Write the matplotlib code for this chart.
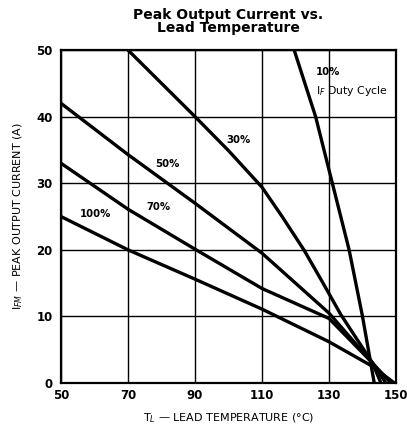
import matplotlib
matplotlib.use("Agg")
import matplotlib.pyplot as plt

# duty cycle curves
t_10 = [119.6, 126, 131, 136, 140, 143.5]
i_10 = [50, 40, 30, 20, 10, 0]

t_30 = [70, 90, 100, 110, 116, 122.5, 128, 133.5, 143, 145.5]
i_30 = [50, 40, 34.9, 29.4, 25, 20, 15.2, 10.3, 3, 0]

t_50 = [50, 70, 90, 110, 130, 143, 147]
i_50 = [42, 34.3, 27, 19.5, 10.5, 3, 0]

t_70 = [50, 70, 90, 110, 130, 143, 148.5]
i_70 = [33, 26.1, 20.1, 14.2, 9.7, 3, 0]

t_100 = [50, 70, 90, 110, 130, 143, 149.5]
i_100 = [25, 20, 15.6, 11.1, 6.2, 2.5, 0]

x_ticks = [50, 70, 90, 110, 130, 150]
y_ticks = [0, 10, 20, 30, 40, 50]


def main():
    fig = plt.figure(figsize=(4.07, 4.28), dpi=100)
    ax = fig.add_axes([0.15, 0.105, 0.823, 0.778])

    for t, i in [(t_10, i_10), (t_30, i_30), (t_50, i_50), (t_70, i_70), (t_100, i_100)]:
        ax.plot(t, i, color="black", lw=2.4, solid_capstyle="butt")

    ax.set_xlim(50, 150)
    ax.set_ylim(0, 50)
    ax.set_xticks(x_ticks)
    ax.set_yticks(y_ticks)
    ax.grid(True, color="black", lw=1.0)
    ax.tick_params(length=0, labelsize=8.5)
    ax.tick_params(axis="x", pad=4)
    ax.tick_params(axis="y", pad=6)
    for lbl in ax.get_xticklabels() + ax.get_yticklabels():
        lbl.set_fontweight("bold")
    for s in ax.spines.values():
        s.set_linewidth(1.6)

    fs = 7.3
    ax.text(126, 46.2, "10%", fontsize=fs, fontweight="bold")
    ax.text(126, 43.4, "I$_F$ Duty Cycle", fontsize=7.8)
    ax.text(99.5, 36, "30%", fontsize=fs, fontweight="bold")
    ax.text(78, 32.5, "50%", fontsize=fs, fontweight="bold")
    ax.text(75.5, 26, "70%", fontsize=fs, fontweight="bold")
    ax.text(55.5, 25, "100%", fontsize=fs, fontweight="bold")

    ax.set_xlabel("T$_L$ — LEAD TEMPERATURE (°C)", fontsize=8, labelpad=7)
    ax.set_ylabel("I$_{FM}$ — PEAK OUTPUT CURRENT (A)", fontsize=8, labelpad=8)
    ax.set_title("Peak Output Current vs.\nLead Temperature", fontsize=10,
                 fontweight="bold", linespacing=0.95, pad=13)

    fig.savefig("out.png", dpi=100)
    plt.close(fig)


if __name__ == '__main__':
    main()
